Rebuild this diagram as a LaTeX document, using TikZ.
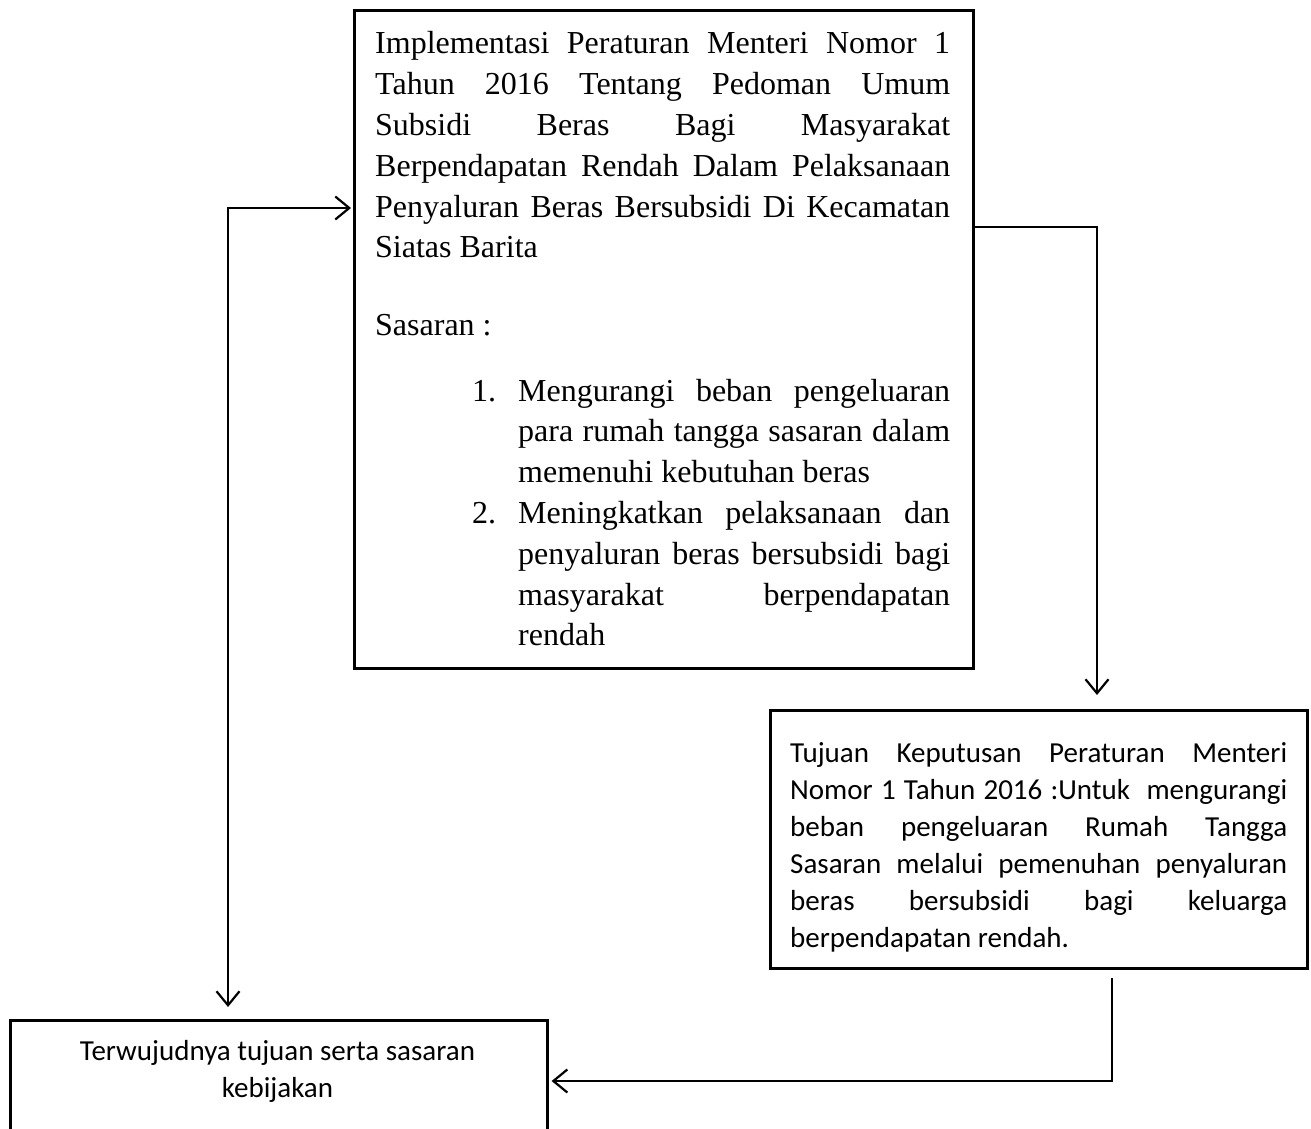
\documentclass[tikz,border=0pt]{standalone}
\usepackage{fontspec}
\newfontfamily\tnr{Liberation Serif}
\newfontfamily\calfont{Carlito}
\usetikzlibrary{arrows.meta,calc}
\newcommand\jline[1]{\makebox[\linewidth][s]{#1}\par}
\begin{document}
\begin{tikzpicture}[x=1pt,y=-1pt,
  box/.style={draw, line width=2.6pt, inner sep=0pt, anchor=north west},
  txt/.style={anchor=base west, inner sep=0pt},
  barb/.tip={Straight Barb[length=14pt,width=23pt]},
  conn/.style={line width=2.2pt, -barb},
  conn2/.style={line width=2.2pt, barb-barb},
  serifbig/.style={font=\tnr\fontsize{32pt}{40.8pt}\selectfont},
  calbig/.style={font=\calfont\fontsize{29pt}{37pt}\selectfont}]
\useasboundingbox (0,0) rectangle (1311,1129);
\clip (0,0) rectangle (1311,1129);
\fill[white] (0,0) rectangle (1311,1129);

% boxes
\node[box, minimum width=619pt, minimum height=658pt] (b1) at (353,9) {};
\node[box, minimum width=537pt, minimum height=258pt] (b2) at (769,709) {};
\node[box, minimum width=537pt, minimum height=200pt] (b3) at (9,1019) {};

% box 1 text
\node[txt, serifbig] (t1) at (375,54) {\parbox[t]{575pt}{\tnr\fontsize{32pt}{40.8pt}\selectfont
\jline{Implementasi Peraturan Menteri Nomor 1}
\jline{Tahun 2016 Tentang Pedoman Umum}
\jline{Subsidi Beras Bagi Masyarakat}
\jline{Berpendapatan Rendah Dalam Pelaksanaan}
\jline{Penyaluran Beras Bersubsidi Di Kecamatan}
Siatas Barita\par}};
\node[txt, serifbig] (t2) at (375,335) {Sasaran :};
\node[txt, serifbig] (n1) at (472,401) {1.};
\node[txt, serifbig] (i1) at (518,401) {\parbox[t]{432pt}{\tnr\fontsize{32pt}{40.8pt}\selectfont
\jline{Mengurangi beban pengeluaran}
\jline{para rumah tangga sasaran dalam}
memenuhi kebutuhan beras\par}};
\node[txt, serifbig] (n2) at (472,523.4) {2.};
\node[txt, serifbig] (i2) at (518,523.4) {\parbox[t]{432pt}{\tnr\fontsize{32pt}{40.8pt}\selectfont
\jline{Meningkatkan pelaksanaan dan}
\jline{penyaluran beras bersubsidi bagi}
\jline{masyarakat berpendapatan}
rendah\par}};

% box 2 text
\node[txt, calbig] (t3) at (790,762) {\parbox[t]{497pt}{\calfont\fontsize{29pt}{37pt}\selectfont
\jline{Tujuan Keputusan Peraturan Menteri}
\jline{Nomor 1 Tahun 2016 :Untuk\ \ mengurangi}
\jline{beban pengeluaran Rumah Tangga}
\jline{Sasaran melalui pemenuhan penyaluran}
\jline{beras bersubsidi bagi keluarga}
berpendapatan rendah.\par}};

% box 3 text
\node[anchor=base, inner sep=0pt, calbig] (t4) at (277.5,1060) {\parbox[t]{537pt}{\centering\calfont\fontsize{29pt}{37pt}\selectfont
Terwujudnya tujuan serta sasaran\par
kebijakan\par}};

% connectors
\coordinate (r1) at (1097,227);
\coordinate (r2) at (1097,695);
\draw[conn] (r1 -| b1.east) -- (r1) -- (r2);

\coordinate (s1) at (1112,978);
\coordinate (s2) at (1112,1081);
\draw[conn] (s1) -- (s2) -- ($(s2 -| b3.east)+(3,0)$);

\coordinate (c1) at (228,1007);
\coordinate (c2) at (228,208);
\draw[conn2] (c1) -- (c2) -- ($(c2 -| b1.west)+(-2,0)$);
\end{tikzpicture}
\end{document}
